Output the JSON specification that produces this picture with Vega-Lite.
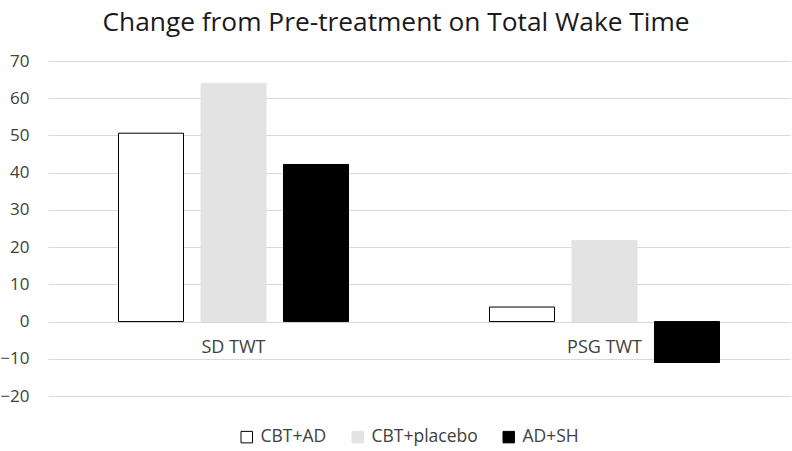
{
  "$schema": "https://vega.github.io/schema/vega-lite/v6.json",
  "autosize": {"type": "none"},
  "width": 742,
  "height": 335,
  "padding": {"left": 48, "top": 61, "right": 2, "bottom": 55},
  "background": "white",
  "title": {
    "text": "Change from Pre-treatment on Total Wake Time",
    "font": "Open Sans",
    "fontSize": 26.3,
    "fontWeight": "normal",
    "color": "#1a1a1a",
    "anchor": "middle",
    "dx": -23,
    "offset": 16
  },
  "data": {
    "values": [
      {"measure": "SD TWT", "group": "CBT+AD", "change": 50.6},
      {"measure": "SD TWT", "group": "CBT+placebo", "change": 64.0},
      {"measure": "SD TWT", "group": "AD+SH", "change": 42.2},
      {"measure": "PSG TWT", "group": "CBT+AD", "change": 3.9},
      {"measure": "PSG TWT", "group": "CBT+placebo", "change": 21.8},
      {"measure": "PSG TWT", "group": "AD+SH", "change": -11.0}
    ]
  },
  "mark": {"type": "bar", "stroke": "black", "strokeWidth": 1},
  "encoding": {
    "x": {
      "field": "measure",
      "type": "nominal",
      "sort": ["SD TWT", "PSG TWT"],
      "scale": {"paddingInner": 0.38, "paddingOuter": 0.19},
      "axis": {
        "title": null,
        "domain": false,
        "ticks": false,
        "labelAngle": 0,
        "offset": -77,
        "labelPadding": 19,
        "labelFont": "Open Sans",
        "labelFontSize": 18,
        "labelColor": "#404040"
      }
    },
    "xOffset": {
      "field": "group",
      "type": "nominal",
      "sort": ["CBT+AD", "CBT+placebo", "AD+SH"],
      "scale": {"paddingInner": 0.212, "paddingOuter": 0}
    },
    "y": {
      "field": "change",
      "type": "quantitative",
      "scale": {"domain": [-20, 70], "nice": false, "zero": false},
      "axis": {
        "title": null,
        "domain": false,
        "ticks": false,
        "values": [-20, -10, 0, 10, 20, 30, 40, 50, 60, 70],
        "labelPadding": 19,
        "labelFont": "Open Sans",
        "labelFontSize": 17,
        "labelColor": "#404040",
        "gridColor": "#d9d9d9",
        "gridWidth": 1
      }
    },
    "fill": {
      "field": "group",
      "type": "nominal",
      "sort": ["CBT+AD", "CBT+placebo", "AD+SH"],
      "scale": {"domain": ["CBT+AD", "CBT+placebo", "AD+SH"], "range": ["#ffffff", "#e3e3e3", "#000000"]},
      "legend": {
        "title": null,
        "orient": "none",
        "legendX": 190,
        "legendY": 367,
        "direction": "horizontal",
        "symbolType": "square",
        "symbolSize": 132,
        "symbolStrokeWidth": 1,
        "labelFont": "Open Sans",
        "labelFontSize": 17.5,
        "labelColor": "#404040",
        "labelOffset": 5,
        "columnPadding": 22
      }
    },
    "stroke": {
      "field": "group",
      "type": "nominal",
      "scale": {"domain": ["CBT+AD", "CBT+placebo", "AD+SH"], "range": ["#000000", "#e3e3e3", "#000000"]},
      "legend": null
    }
  },
  "config": {"view": {"stroke": null}}
}
